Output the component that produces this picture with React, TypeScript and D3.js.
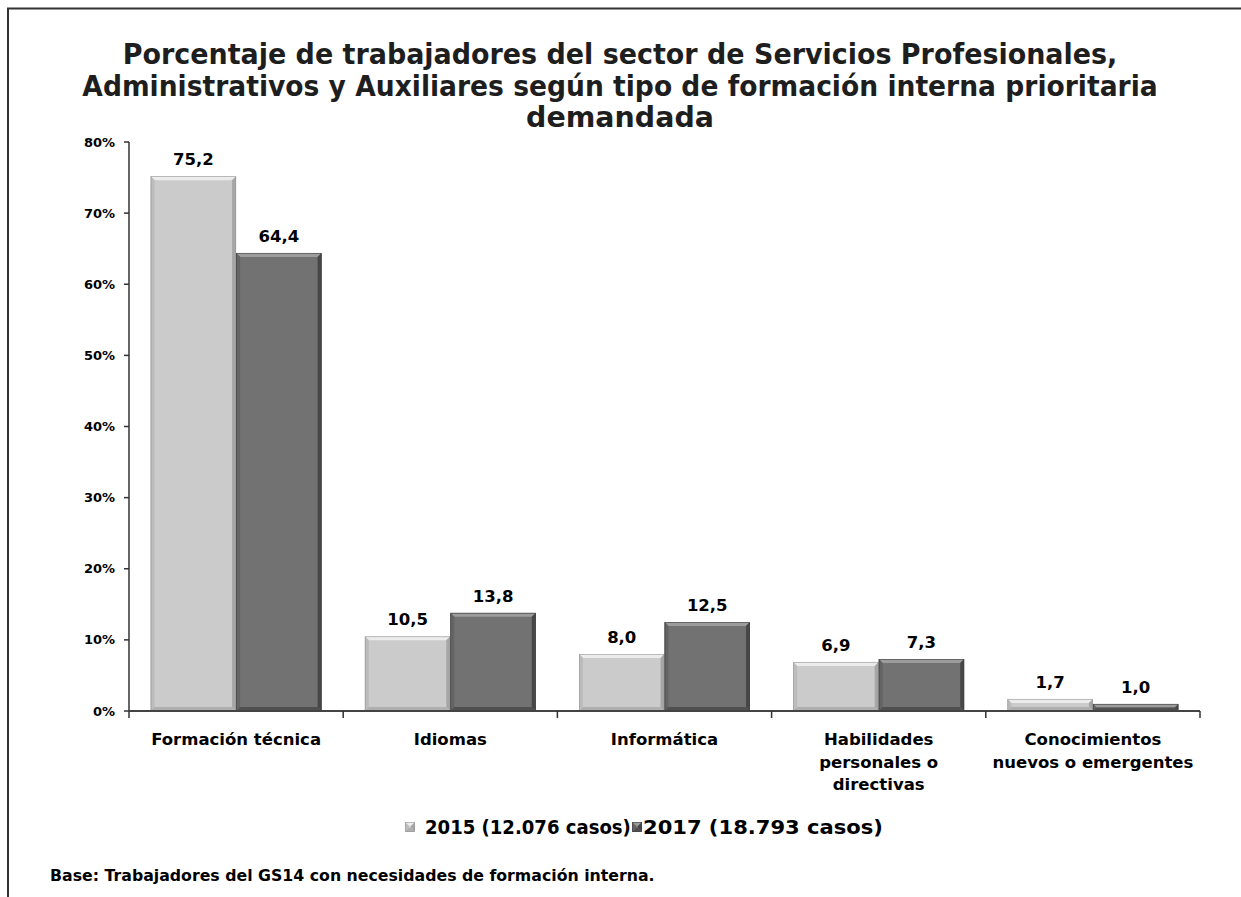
import React, { useLayoutEffect, useRef, useState } from "react";
import * as d3 from "d3";

const categories: string[][] = [
  ["Formación técnica"],
  ["Idiomas"],
  ["Informática"],
  ["Habilidades", "personales o", "directivas"],
  ["Conocimientos", "nuevos o emergentes"],
];
const seriesNames = ["2015 (12.076 casos)", "2017 (18.793 casos)"];
const values2015 = [75.2, 10.5, 8.0, 6.9, 1.7];
const values2017 = [64.4, 13.8, 12.5, 7.3, 1.0];
const yTicks = [0, 10, 20, 30, 40, 50, 60, 70, 80];
const titleLines = [
  "Porcentaje de trabajadores del sector de Servicios Profesionales,",
  "Administrativos y Auxiliares según tipo de formación interna prioritaria",
  "demandada",
];
const footnote = "Base: Trabajadores del GS14 con necesidades de formación interna.";

const W = 1241;
const H = 897;
const FONT = "'DejaVu Sans', Verdana, sans-serif";

const palettes = [
  { main: "#cbcbcb", top: "#ececec", left: "#bcbcbc", right: "#a6a6a6", bottom: "#afafaf", stroke: "#9a9a9a" },
  { main: "#727272", top: "#9c9c9c", left: "#646464", right: "#474747", bottom: "#505050", stroke: "#444" },
];

function BevelRect({ x, y, w, h, p }: { x: number; y: number; w: number; h: number; p: any }) {
  const b = Math.min(4, h / 2, w / 2);
  const x2 = x + w;
  const y2 = y + h;
  return (
    <g>
      <rect x={x} y={y} width={w} height={h} fill={p.main} />
      <polygon points={`${x},${y} ${x2},${y} ${x2 - b},${y + b} ${x + b},${y + b}`} fill={p.top} />
      <polygon points={`${x},${y} ${x + b},${y + b} ${x + b},${y2 - b} ${x},${y2}`} fill={p.left} />
      <polygon points={`${x2},${y} ${x2},${y2} ${x2 - b},${y2 - b} ${x2 - b},${y + b}`} fill={p.right} />
      <polygon points={`${x},${y2} ${x + b},${y2 - b} ${x2 - b},${y2 - b} ${x2},${y2}`} fill={p.bottom} />
      <rect x={x + 0.5} y={y + 0.5} width={Math.max(0, w - 1)} height={Math.max(0, h - 1)} fill="none" stroke={p.stroke} strokeWidth={0.6} />
    </g>
  );
}

// Text that is horizontally scaled to a target width (measured after layout)
function FitText({
  x, y, target, anchor, fontSize, fill, children,
}: { x: number; y: number; target: number; anchor: "start" | "middle"; fontSize: number; fill: string; children: string }) {
  const ref = useRef<SVGTextElement>(null);
  const [sx, setSx] = useState(1);
  useLayoutEffect(() => {
    if (ref.current) {
      const w = ref.current.getComputedTextLength();
      if (w > 0) setSx(target / w);
    }
  }, [target, children, fontSize]);
  return (
    <g transform={`translate(${x},${y}) scale(${sx},1)`}>
      <text ref={ref} x={0} y={0} textAnchor={anchor} fontWeight="bold" fontSize={fontSize} fill={fill}>
        {children}
      </text>
    </g>
  );
}

export default function App() {
  const x0 = 129;
  const x1 = 1200;
  const yTop = 142;
  const yBottom = 711;

  const x = d3
    .scaleBand<number>()
    .domain(categories.map((_, i) => i))
    .range([x0, x1])
    .paddingInner(0)
    .paddingOuter(0);
  const y = d3.scaleLinear().domain([0, 80]).range([yBottom, yTop]);

  const band = x.bandwidth();
  const barW = band * (85.5 / 214.2);
  const groupOffset = (band - 2 * barW) / 2;
  const series = [values2015, values2017];
  const fmt = (v: number) => v.toFixed(1).replace(".", ",");

  return (
    <svg
      width={W}
      height={H}
      style={{ position: "absolute", left: 0, top: 0, background: "#fff" }}
      fontFamily={FONT}
    >
      {/* frame */}
      <line x1={7} y1={8.5} x2={W} y2={8.5} stroke="#333" strokeWidth={2} />
      <line x1={8} y1={8} x2={8} y2={H} stroke="#333" strokeWidth={2} />

      {/* title */}
      {titleLines.map((t, i) => (
        <FitText
          key={i}
          x={620}
          y={64 + i * 31.5}
          anchor="middle"
          fontSize={29}
          fill="#1e1e1e"
          target={i === 0 ? 995 : i === 1 ? 1076 : 188}
        >
          {t}
        </FitText>
      ))}

      {/* y axis */}
      <line x1={x0} y1={yTop} x2={x0} y2={yBottom} stroke="#333" strokeWidth={1.5} />
      {yTicks.map((t) => (
        <g key={t}>
          <line x1={x0 - 5} x2={x0} y1={y(t)} y2={y(t)} stroke="#333" strokeWidth={1.5} />
          <text x={x0 - 14} y={y(t) + 4.5} textAnchor="end" fontWeight="bold" fontSize={13} fill="#000">
            {t}%
          </text>
        </g>
      ))}

      {/* bars */}
      {categories.map((_, ci) =>
        series.map((vals, si) => {
          const bx = (x(ci) as number) + groupOffset + si * barW;
          const by = y(vals[ci]);
          const bh = yBottom - by;
          return (
            <g key={`${ci}-${si}`}>
              <BevelRect x={bx} y={by} w={barW} h={bh} p={palettes[si]} />
              <text
                x={bx + barW / 2}
                y={by - 11}
                textAnchor="middle"
                fontWeight="bold"
                fontSize={16.5}
                fill="#000"
              >
                {fmt(vals[ci])}
              </text>
            </g>
          );
        })
      )}

      {/* x axis */}
      <line x1={x0} y1={yBottom} x2={x1} y2={yBottom} stroke="#444" strokeWidth={2} />
      {[...categories.map((_, i) => x(i) as number), x1].map((tx, i) => (
        <line key={i} x1={tx} x2={tx} y1={yBottom} y2={yBottom + 7} stroke="#333" strokeWidth={1.5} />
      ))}
      {categories.map((lines, ci) => (
        <text
          key={ci}
          x={(x(ci) as number) + band / 2}
          textAnchor="middle"
          fontWeight="bold"
          fontSize={16.5}
          fill="#000"
        >
          {lines.map((l, li) => (
            <tspan key={li} x={(x(ci) as number) + band / 2} y={745 + li * 22.5}>
              {l}
            </tspan>
          ))}
        </text>
      ))}

      {/* legend */}
      {seriesNames.map((name, si) => {
        const mx = si === 0 ? 405 : 632;
        const tx = si === 0 ? 425 : 643;
        const tw = si === 0 ? 206 : 240;
        return (
          <g key={si}>
            <BevelRect x={mx} y={822} w={10} h={10} p={palettes[si]} />
            <FitText x={tx} y={834} anchor="start" fontSize={20} fill="#000" target={tw}>
              {name}
            </FitText>
          </g>
        );
      })}

      {/* footnote */}
      <FitText x={50} y={881} anchor="start" fontSize={15} fill="#000" target={605}>
        {footnote}
      </FitText>
    </svg>
  );
}
